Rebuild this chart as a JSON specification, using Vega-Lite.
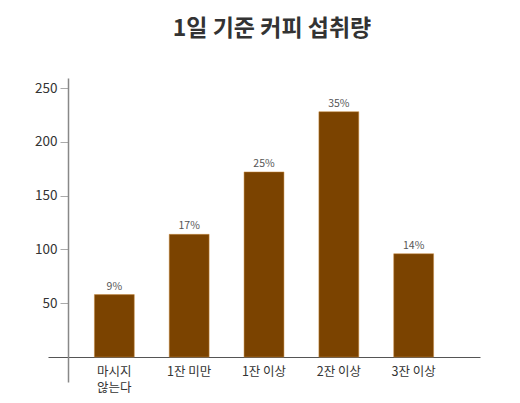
{
  "$schema": "https://vega.github.io/schema/vega-lite/v6.json",
  "autosize": "none",
  "width": 432,
  "height": 304,
  "padding": {"left": 48, "top": 78, "right": 40, "bottom": 21},
  "background": "white",
  "title": {
    "text": "1일 기준 커피 섭취량",
    "font": "Noto Sans CJK KR",
    "fontSize": 23,
    "fontWeight": "bold",
    "color": "#333333",
    "anchor": "middle",
    "dx": 8,
    "offset": 37
  },
  "data": {
    "values": [
      {"category": "마시지 않는다", "value": 58, "pct": "9%"},
      {"category": "1잔 미만", "value": 114, "pct": "17%"},
      {"category": "1잔 이상", "value": 172, "pct": "25%"},
      {"category": "2잔 이상", "value": 228, "pct": "35%"},
      {"category": "3잔 이상", "value": 96, "pct": "14%"}
    ]
  },
  "config": {
    "view": {"stroke": null},
    "axis": {"labelFont": "Noto Sans CJK KR", "grid": false}
  },
  "encoding": {
    "x": {
      "field": "category",
      "type": "nominal",
      "sort": null,
      "scale": {"paddingInner": 0.467, "paddingOuter": 0.62},
      "axis": {
        "title": null,
        "offset": -25,
        "labelAngle": 0,
        "ticks": false,
        "domainColor": "#555555",
        "domainWidth": 1.2,
        "labelColor": "#333333",
        "labelFontSize": 12.5,
        "labelPadding": 8,
        "labelLineHeight": 16,
        "labelBaseline": "top",
        "labelExpr": "datum.label == '마시지 않는다' ? ['마시지', '않는다'] : datum.label"
      }
    },
    "y": {
      "field": "value",
      "type": "quantitative",
      "scale": {"domain": [-23.2, 259.3], "nice": false, "zero": false},
      "axis": {
        "title": null,
        "offset": -20,
        "values": [50, 100, 150, 200, 250],
        "domainColor": "#888888",
        "domainWidth": 1.5,
        "tickColor": "#aaaaaa",
        "tickSize": 8,
        "labelColor": "#333333",
        "labelFontSize": 13.5,
        "labelPadding": 3
      }
    }
  },
  "layer": [
    {
      "mark": {"type": "bar", "color": "#7B4300", "stroke": "#c98a3e", "strokeWidth": 0.5}
    },
    {
      "mark": {
        "type": "text",
        "baseline": "bottom",
        "dy": -3,
        "font": "Noto Sans CJK KR",
        "fontSize": 10.5,
        "color": "#555555"
      },
      "encoding": {"text": {"field": "pct"}}
    }
  ]
}
